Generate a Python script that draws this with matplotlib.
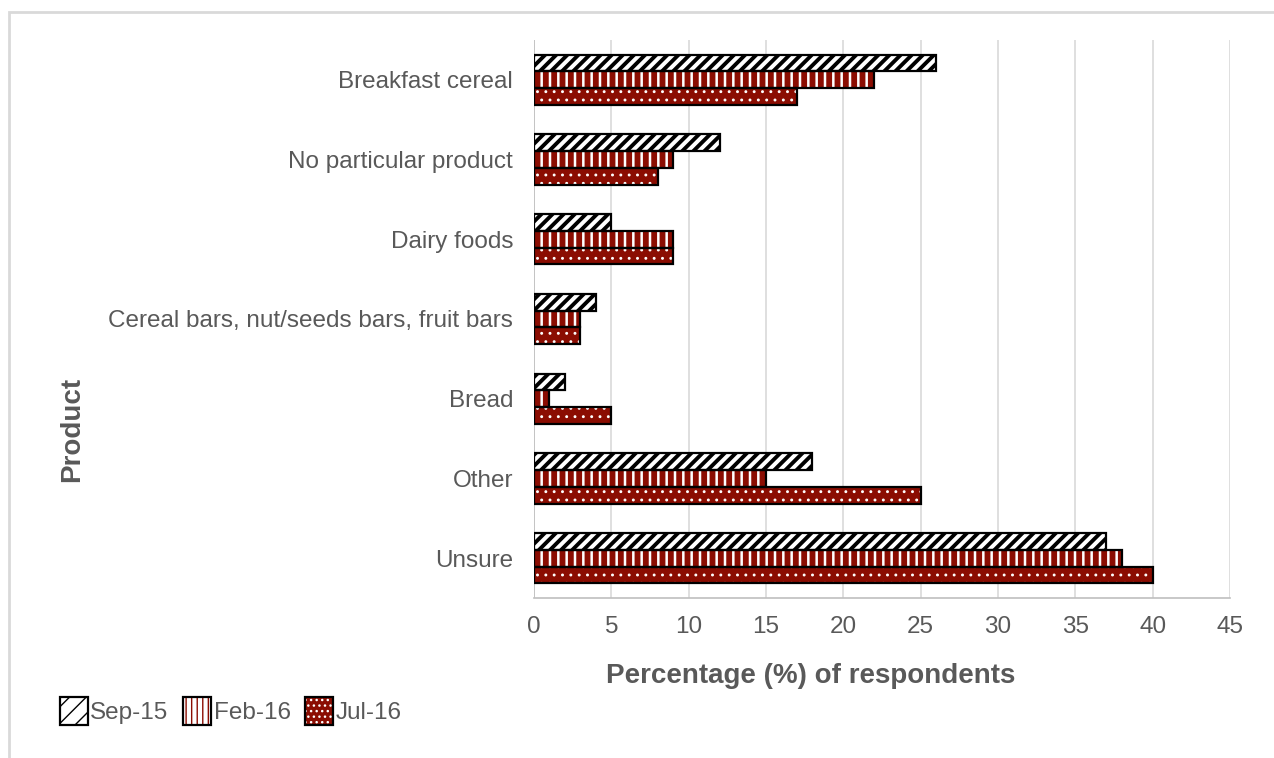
import numpy as np
import matplotlib
import matplotlib.pyplot as plt
from matplotlib.patches import Rectangle, Patch

plt.rcParams['font.family'] = ['Liberation Sans', 'DejaVu Sans']

# data
products = ['Breakfast cereal', 'No particular product', 'Dairy foods',
            'Cereal bars, nut/seeds bars, fruit bars', 'Bread', 'Other', 'Unsure']
series = ['Sep-15', 'Feb-16', 'Jul-16']
sep15 = [26, 12, 5, 4, 2, 18, 37]
feb16 = [22, 9, 9, 3, 1, 15, 38]
jul16 = [17, 8, 9, 3, 5, 25, 40]

red = '#8b0d02'
grey = '#595959'
styles = [
    dict(face='white', hatch='///', hcol='black', hlw=2.8),
    dict(face='white', hatch='||', hcol=red, hlw=4.2),
    dict(face=red, hatch='..', hcol='white', hlw=0.9),
]

fig = plt.figure(figsize=(12.74, 7.58), dpi=100)
ax = fig.add_axes([534 / 1274, 1 - 598 / 758, (1230 - 534) / 1274, (598 - 40) / 758])

y = np.arange(len(products))
h = 0.21
for i, (vals, st) in enumerate(zip([sep15, feb16, jul16], styles)):
    pos = y + (i - 1) * h
    with plt.rc_context({'hatch.linewidth': st['hlw']}):
        ax.barh(pos, vals, height=h, color=st['face'], hatch=st['hatch'],
                edgecolor=st['hcol'], linewidth=0, zorder=2)
    ax.barh(pos, vals, height=h, fill=False, edgecolor='black',
            linewidth=1.6, zorder=3)

ax.set_ylim(len(products) - 0.5, -0.5)
ax.set_xlim(0, 45)
ax.set_xticks(np.arange(0, 46, 5))
ax.set_yticks(y)
ax.set_yticklabels(products)
ax.tick_params(axis='both', length=0, labelsize=17.5, labelcolor=grey)
ax.tick_params(axis='x', pad=13)
ax.tick_params(axis='y', pad=15)
ax.xaxis.grid(True, color='#d9d9d9', linewidth=1.2, zorder=0)
ax.set_axisbelow(True)
for s in ['top', 'right', 'left']:
    ax.spines[s].set_visible(False)
ax.spines['bottom'].set_color('#bfbfbf')
ax.spines['bottom'].set_linewidth(1.2)
ax.axvline(0, color='#bfbfbf', linewidth=1.2, zorder=1)

fig.text(811 / 1274, 1 - 676 / 758, 'Percentage (%) of respondents', fontsize=20,
         fontweight='bold', color=grey, ha='center', va='center')
fig.text(72 / 1274, 1 - 429 / 758, 'Product', rotation=90, fontsize=20,
         fontweight='bold', color=grey, ha='center', va='center')

# legend
leg_hatch = ['//', '|||', '...']
handles = []
for st, hp in zip(styles, leg_hatch):
    with plt.rc_context({'hatch.linewidth': st['hlw']}):
        handles.append(Patch(facecolor=st['face'], hatch=hp,
                             edgecolor=st['hcol'], linewidth=0))
handles2 = [Patch(fill=False, edgecolor='black', linewidth=1.6) for _ in styles]
leg = fig.legend([(a, b) for a, b in zip(handles, handles2)], series,
                 loc='center left', bbox_to_anchor=(60 / 1274, 1 - 711 / 758),
                 ncol=3, frameon=False, fontsize=17.5, handlelength=1.15,
                 handleheight=1.45, handletextpad=0.1, columnspacing=0.6,
                 borderaxespad=0, borderpad=0)
for t in leg.get_texts():
    t.set_color(grey)

# outer frame
fig.patches.append(Rectangle((9 / 1274, -0.1), 1.2, 1 - 12 / 758 + 0.1,
                             transform=fig.transFigure, fill=False,
                             edgecolor='#d9d9d9', linewidth=2))

fig.savefig('out.png', dpi=100)
